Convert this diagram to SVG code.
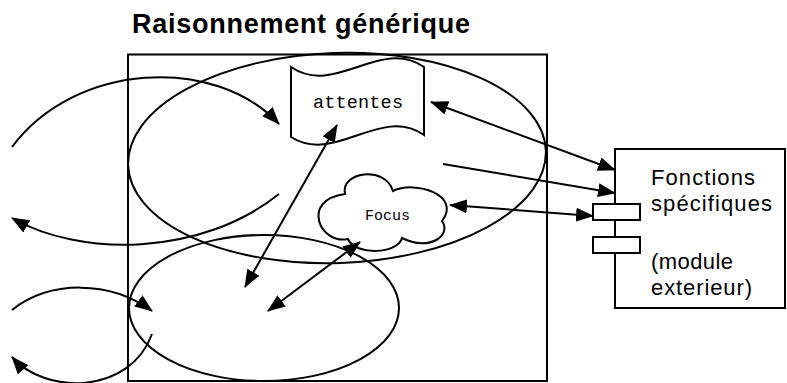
<svg xmlns="http://www.w3.org/2000/svg" width="787" height="383" viewBox="0 0 787 383">
  <style>
    .ln { fill: none; stroke: #000; stroke-width: 2; }
    .shape { fill: #fff; stroke: #000; stroke-width: 2; }
    .sans { font-family: "Liberation Sans", Arial, sans-serif; fill: #000; }
    .mono { font-family: "Liberation Mono", "Courier New", monospace; fill: #000; }
  </style>
  <defs>
    <marker id="ah" viewBox="0 0 18 14" markerWidth="18" markerHeight="14" markerUnits="userSpaceOnUse" refX="17" refY="7" orient="auto-start-reverse">
      <path d="M0,0 L18,7 L0,14 z" fill="#000"/>
    </marker>
  </defs>
  <rect width="787" height="383" fill="#fff"/>

  <g id="title">
    <text class="sans" x="132" y="33" font-size="27" font-weight="bold" textLength="338" lengthAdjust="spacing">Raisonnement générique</text>
  </g>

  <g id="generic-box">
    <rect class="ln" x="128" y="54.5" width="419" height="326.5"/>
  </g>

  <g id="upper-ellipse">
    <ellipse class="ln" cx="337" cy="158" rx="209" ry="105" transform="rotate(-2 337 158)"/>
  </g>

  <g id="lower-ellipse">
    <ellipse class="ln" cx="264" cy="308" rx="135" ry="73"/>
  </g>

  <g id="attentes">
    <path class="shape" d="M291,67 C335,97 380,37 424,67 L424,135 C380,105 335,165 291,137 Z"/>
    <text class="mono" x="313" y="108" font-size="18.5" textLength="90" lengthAdjust="spacing">attentes</text>
  </g>

  <g id="focus">
    <path class="shape" d="M345,194 C340,172 385,165 393,191 C415,180 462,195 442,221 C452,235 430,252 402,238 C398,254 355,256 348,239 C320,245 300,200 345,194 Z"/>
    <text class="mono" x="365" y="220" font-size="15" textLength="45" lengthAdjust="spacing">Focus</text>
  </g>

  <g id="fonctions">
    <rect class="ln" x="615" y="149" width="170" height="159"/>
    <rect class="shape" x="593" y="204" width="47" height="16"/>
    <rect class="shape" x="593" y="237" width="47" height="16"/>
    <text class="sans" x="651" y="185" font-size="22" textLength="104" lengthAdjust="spacing">Fonctions</text>
    <text class="sans" x="651" y="211" font-size="22" textLength="121" lengthAdjust="spacing">spécifiques</text>
    <text class="sans" x="651" y="269" font-size="22" textLength="82" lengthAdjust="spacing">(module</text>
    <text class="sans" x="651" y="295" font-size="22" textLength="101" lengthAdjust="spacing">exterieur)</text>
  </g>

  <g id="connectors">
    <path class="ln" d="M12,147 C75,62 215,55 279,124" marker-end="url(#ah)"/>
    <path class="ln" d="M279,194 C200,257 80,257 12,218" marker-end="url(#ah)"/>
    <path class="ln" d="M12,310 C50,280 110,280 152,311" marker-end="url(#ah)"/>
    <path class="ln" d="M152,334 C130,395 45,395 12,357" marker-end="url(#ah)"/>
    <line class="ln" x1="337" y1="125" x2="245" y2="287" marker-start="url(#ah)" marker-end="url(#ah)"/>
    <line class="ln" x1="360" y1="242" x2="268" y2="311" marker-start="url(#ah)" marker-end="url(#ah)"/>
    <line class="ln" x1="431" y1="102" x2="615" y2="170" marker-start="url(#ah)" marker-end="url(#ah)"/>
    <line class="ln" x1="443" y1="164" x2="615" y2="193" marker-end="url(#ah)"/>
    <line class="ln" x1="450" y1="205" x2="593" y2="216" marker-start="url(#ah)" marker-end="url(#ah)"/>
  </g>
</svg>
